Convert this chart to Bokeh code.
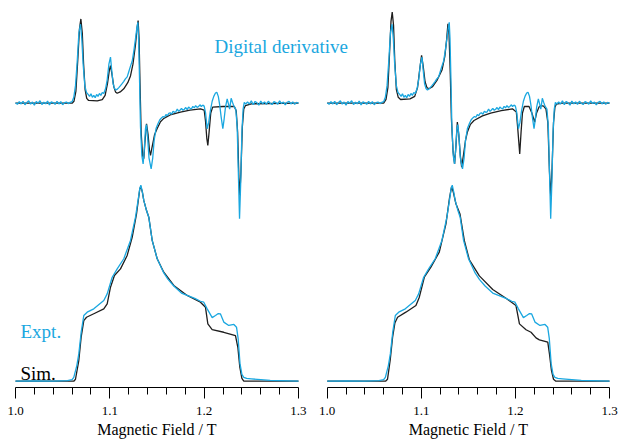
import numpy as np
from bokeh.plotting import figure
from bokeh.models import Range1d, LinearAxis, FixedTicker, Label, PrintfTickFormatter
from bokeh.embed import file_html
from bokeh.resources import INLINE

# ---------------- data ----------------
tick_values = [1.0, 1.1, 1.2, 1.3]
tick_labels = ["1.0", "1.1", "1.2", "1.3"]
minor_tick_values = [1.02, 1.04, 1.06, 1.08, 1.12, 1.14, 1.16, 1.18,
                     1.22, 1.24, 1.26, 1.28]
axis_title = "Magnetic Field / T"

# Experimental absorption spectrum (same data in both panels)
expt_abs_field = [1.000, 1.020, 1.040, 1.055, 1.0600, 1.0618, 1.0650, 1.0671, 1.0696, 1.0724,
                  1.0760, 1.0830, 1.0936, 1.0972, 1.1025, 1.1078, 1.1148, 1.1219, 1.1272, 1.1300,
                  1.1318, 1.1329, 1.1345, 1.1360, 1.1389, 1.1413, 1.1449, 1.1502, 1.1572, 1.1617,
                  1.1678, 1.1759, 1.1820, 1.1900, 1.1961, 1.1996, 1.2032, 1.2085, 1.2120, 1.2150,
                  1.2173, 1.2208, 1.2261, 1.2315, 1.2343, 1.2360, 1.2380, 1.2400, 1.2420, 1.2450,
                  1.2500, 1.2600, 1.2700, 1.2800, 1.3000]
expt_abs = [0.000, 0.002, 0.000, 0.003, 0.008, 0.020, 0.080, 0.140, 0.250, 0.337,
            0.354, 0.371, 0.414, 0.448, 0.533, 0.576, 0.628, 0.722, 0.841, 0.930,
            0.990, 1.005, 0.970, 0.927, 0.875, 0.841, 0.722, 0.628, 0.555, 0.522,
            0.488, 0.452, 0.440, 0.425, 0.410, 0.405, 0.371, 0.326, 0.337, 0.347,
            0.345, 0.303, 0.286, 0.291, 0.277, 0.220, 0.090, 0.035, 0.020, 0.014,
            0.012, 0.008, 0.004, 0.003, 0.000]

# Simulated absorption, left panel
sim1_abs_field = [1.000, 1.0618, 1.0636, 1.0671, 1.0696, 1.0724, 1.0753, 1.0830, 1.0936, 1.0972,
                  1.1007, 1.1049, 1.1113, 1.1184, 1.1237, 1.1283, 1.1318, 1.1329, 1.1345, 1.1360,
                  1.1389, 1.1413, 1.1449, 1.1502, 1.1572, 1.1678, 1.1820, 1.1961, 1.2014, 1.2039,
                  1.2085, 1.2208, 1.2332, 1.2357, 1.2378, 1.2400, 1.2420, 1.3000]
sim1_abs = [0.000, 0.000, 0.010, 0.106, 0.226, 0.311, 0.328, 0.346, 0.371, 0.397,
            0.482, 0.542, 0.576, 0.645, 0.738, 0.858, 0.987, 0.998, 0.970, 0.927,
            0.875, 0.841, 0.722, 0.628, 0.559, 0.491, 0.440, 0.405, 0.379, 0.294,
            0.264, 0.251, 0.234, 0.174, 0.072, 0.015, 0.000, 0.000]

# Simulated absorption, right panel
sim2_abs_field = [1.000, 1.0620, 1.0641, 1.0670, 1.0695, 1.0720, 1.0748, 1.0836, 1.0943, 1.0979,
                  1.1032, 1.1102, 1.1191, 1.1262, 1.1300, 1.1322, 1.1340, 1.1368, 1.1411, 1.1457,
                  1.1511, 1.1617, 1.1759, 1.1900, 1.2006, 1.2025, 1.2043, 1.2113, 1.2166, 1.2219,
                  1.2255, 1.2344, 1.2362, 1.2383, 1.2405, 1.2430, 1.3000]
sim2_abs = [0.000, 0.000, 0.010, 0.110, 0.226, 0.300, 0.328, 0.354, 0.388, 0.431,
            0.533, 0.585, 0.662, 0.807, 0.940, 0.998, 0.970, 0.910, 0.858, 0.722,
            0.622, 0.540, 0.470, 0.425, 0.388, 0.340, 0.294, 0.264, 0.251, 0.222,
            0.212, 0.200, 0.140, 0.055, 0.010, 0.000, 0.000]

# Digital derivative of the experimental spectrum (same data in both panels)
expt_deriv_field = [1.000, 1.002, 1.004, 1.006, 1.008, 1.010, 1.012, 1.014, 1.016, 1.018,
                    1.020, 1.022, 1.024, 1.026, 1.028, 1.030, 1.032, 1.034, 1.036, 1.038,
                    1.040, 1.042, 1.044, 1.046, 1.048, 1.050, 1.052, 1.054, 1.056, 1.058,
                    1.0600, 1.0618, 1.0636, 1.0655, 1.0672, 1.0689, 1.0703, 1.0717, 1.0735, 1.0752,
                    1.0770, 1.0785, 1.0800, 1.0815, 1.0830, 1.0845, 1.0860, 1.0875, 1.0890, 1.0905,
                    1.0920, 1.0936, 1.0955, 1.0972, 1.0990, 1.1007, 1.1020, 1.1035, 1.1050, 1.1065,
                    1.1080, 1.1095, 1.1113, 1.1130, 1.1148, 1.1165, 1.1184, 1.1200, 1.1219, 1.1237,
                    1.1255, 1.1272, 1.1285, 1.1297, 1.1305, 1.1315, 1.1325, 1.1340, 1.1353, 1.1365,
                    1.1378, 1.1388, 1.1400, 1.1415, 1.1438, 1.1455, 1.1470, 1.1490, 1.1510, 1.1530,
                    1.1550, 1.1565, 1.1580, 1.1595, 1.1610, 1.1625, 1.1640, 1.1655, 1.1670, 1.1685,
                    1.1700, 1.1715, 1.1730, 1.1745, 1.1760, 1.1775, 1.1790, 1.1805, 1.1820, 1.1835,
                    1.1850, 1.1865, 1.1880, 1.1895, 1.1910, 1.1925, 1.1940, 1.1955, 1.1970, 1.1985,
                    1.2000, 1.2015, 1.2032, 1.2048, 1.2065, 1.2085, 1.2102, 1.2120, 1.2134, 1.2150,
                    1.2165, 1.2180, 1.2198, 1.2212, 1.2226, 1.2244, 1.2258, 1.2270, 1.2286, 1.2300,
                    1.2315, 1.2335, 1.2350, 1.2362, 1.2375, 1.2388, 1.2400, 1.2413, 1.2425, 1.2440,
                    1.246, 1.248, 1.250, 1.252, 1.254, 1.256, 1.258, 1.260, 1.262, 1.264,
                    1.266, 1.268, 1.270, 1.272, 1.274, 1.276, 1.278, 1.280, 1.282, 1.284,
                    1.286, 1.288, 1.290, 1.292, 1.294, 1.296, 1.298, 1.300]
expt_deriv = [0.002, -0.006, 0.008, -0.004, 0.010, -0.008, 0.004, 0.012, -0.005, 0.006,
              -0.010, 0.009, 0.000, 0.013, -0.007, 0.005, -0.003, 0.011, -0.009, 0.007,
              0.002, -0.006, 0.010, -0.004, 0.008, -0.008, 0.003, 0.006, -0.002, 0.004,
              0.008, 0.030, 0.090, 0.220, 0.360, 0.405, 0.330, 0.200, 0.090, 0.055,
              0.045, 0.035, 0.048, 0.030, 0.040, 0.028, 0.045, 0.035, 0.050, 0.040,
              0.055, 0.050, 0.075, 0.120, 0.200, 0.236, 0.170, 0.100, 0.075, 0.068,
              0.072, 0.080, 0.090, 0.100, 0.112, 0.125, 0.135, 0.160, 0.190, 0.215,
              0.270, 0.330, 0.380, 0.415, 0.330, 0.120, -0.120, -0.270, -0.311, -0.240,
              -0.130, -0.110, -0.170, -0.280, -0.337, -0.280, -0.190, -0.130, -0.105, -0.085,
              -0.074, -0.068, -0.072, -0.058, -0.064, -0.052, -0.049, -0.057, -0.041, -0.047,
              -0.044, -0.030, -0.042, -0.035, -0.027, -0.036, -0.031, -0.022, -0.033, -0.020,
              -0.026, -0.029, -0.016, -0.024, -0.012, -0.021, -0.018, -0.008, -0.017, -0.010,
              -0.015, -0.050, -0.131, -0.100, -0.040, 0.010, 0.035, 0.052, 0.056, 0.035,
              -0.010, -0.070, -0.131, -0.080, -0.020, 0.022, -0.005, -0.030, 0.025, 0.005,
              -0.015, -0.030, -0.120, -0.350, -0.593, -0.400, -0.150, -0.030, 0.004, -0.004,
              0.006, -0.004, 0.012, -0.008, 0.009, 0.002, -0.010, 0.011, -0.003, 0.007,
              -0.006, 0.010, 0.000, -0.007, 0.008, 0.003, -0.005, 0.012, -0.002, 0.006,
              -0.009, 0.005, 0.010, -0.004, 0.007, -0.006, 0.004, 0.001]

# Derivative of the simulation, left panel
sim1_deriv_field = [1.000, 1.0600, 1.0620, 1.0640, 1.0660, 1.0678, 1.0693, 1.0708, 1.0722, 1.0738,
                    1.0755, 1.0775, 1.0866, 1.0920, 1.0950, 1.0975, 1.0995, 1.1007, 1.1022, 1.1042,
                    1.1060, 1.1078, 1.1110, 1.1148, 1.1190, 1.1219, 1.1245, 1.1272, 1.1290, 1.1300,
                    1.1310, 1.1320, 1.1332, 1.1348, 1.1360, 1.1372, 1.1389, 1.1405, 1.1420, 1.1431,
                    1.1450, 1.1475, 1.1502, 1.1537, 1.1572, 1.1650, 1.1749, 1.1850, 1.1961, 1.2000,
                    1.2014, 1.2028, 1.2039, 1.2052, 1.2070, 1.2090, 1.2200, 1.2320, 1.2340, 1.2355,
                    1.2368, 1.2378, 1.2390, 1.2405, 1.2420, 1.2438, 1.2500, 1.3000]
sim1_deriv = [0.000, 0.000, 0.010, 0.060, 0.220, 0.380, 0.432, 0.360, 0.200, 0.070,
              0.025, 0.014, 0.012, 0.018, 0.040, 0.100, 0.170, 0.193, 0.150, 0.085,
              0.058, 0.051, 0.058, 0.074, 0.105, 0.140, 0.200, 0.300, 0.390, 0.424,
              0.330, 0.100, -0.150, -0.270, -0.285, -0.200, -0.106, -0.160, -0.240, -0.268,
              -0.220, -0.160, -0.130, -0.095, -0.078, -0.058, -0.046, -0.036, -0.029, -0.035,
              -0.090, -0.180, -0.217, -0.150, -0.050, -0.020, -0.017, -0.017, -0.040, -0.150,
              -0.380, -0.473, -0.350, -0.120, -0.030, -0.012, -0.003, 0.000]

# Derivative of the simulation, right panel
sim2_deriv_field = [1.000, 1.0600, 1.0625, 1.0645, 1.0662, 1.0678, 1.0691, 1.0705, 1.0718, 1.0735,
                    1.0755, 1.0780, 1.0880, 1.0930, 1.0960, 1.0985, 1.1003, 1.1020, 1.1040, 1.1060,
                    1.1081, 1.1120, 1.1170, 1.1220, 1.1250, 1.1270, 1.1283, 1.1295, 1.1308, 1.1320,
                    1.1338, 1.1354, 1.1368, 1.1383, 1.1398, 1.1415, 1.1429, 1.1450, 1.1470, 1.1489,
                    1.1520, 1.1560, 1.1650, 1.1737, 1.1850, 1.1968, 1.2010, 1.2025, 1.2046, 1.2060,
                    1.2075, 1.2095, 1.2145, 1.2175, 1.2205, 1.2225, 1.2251, 1.2270, 1.2300, 1.2325,
                    1.2345, 1.2362, 1.2376, 1.2390, 1.2405, 1.2420, 1.2435, 1.2500, 1.3000]
sim2_deriv = [0.000, 0.000, 0.020, 0.080, 0.250, 0.420, 0.467, 0.400, 0.220, 0.070,
              0.030, 0.019, 0.022, 0.035, 0.080, 0.180, 0.245, 0.190, 0.110, 0.080,
              0.074, 0.085, 0.120, 0.170, 0.240, 0.330, 0.407, 0.350, 0.150, -0.080,
              -0.250, -0.311, -0.220, -0.097, -0.160, -0.270, -0.328, -0.260, -0.190, -0.149,
              -0.110, -0.089, -0.065, -0.051, -0.038, -0.029, -0.045, -0.130, -0.260, -0.150,
              -0.050, -0.017, -0.017, -0.050, -0.097, -0.050, -0.020, -0.012, -0.015, -0.030,
              -0.100, -0.350, -0.484, -0.330, -0.100, -0.020, -0.005, 0.000, 0.000]

# ---------------- layout constants (pixel geometry) ----------------
W, H = 619, 440
X0_L, PXT_L = 15.0, 943.3      # left panel: px of 1.0 T, px per tesla
X0_R, PXT_R = 326.7, 941.0     # right panel
BASE_PX, PX_UNIT = 380.7, 195.0
DERIV_BASE_PX = 102.7
AXIS_PX = 387.0

def py(v_px):
    return (BASE_PX - v_px) / PX_UNIT

def bx_left(x_px):
    return 1.0 + (x_px - X0_L) / PXT_L

deriv_offset = py(DERIV_BASE_PX)

BLACK = "#1e1e1e"
BLUE = "#1aa7e0"
SERIF = "Liberation Serif"

p = figure(width=W, height=H, output_backend="svg", toolbar_location=None,
           x_range=Range1d(1.0 - X0_L / PXT_L, 1.0 + (W - X0_L) / PXT_L),
           y_range=Range1d(py(H), py(0)),
           x_axis_type=None, y_axis_type=None, min_border=0)
p.extra_x_ranges = {"right": Range1d(1.0 - X0_R / PXT_R, 1.0 + (W - X0_R) / PXT_R)}
p.outline_line_color = None
p.background_fill_color = "white"
p.border_fill_color = "white"

for rng in ["default", "right"]:
    ax = LinearAxis(x_range_name=rng, bounds=(1.0, 1.3), fixed_location=py(AXIS_PX),
                    ticker=FixedTicker(ticks=tick_values, minor_ticks=minor_tick_values),
                    formatter=PrintfTickFormatter(format="%.1f"),
                    major_label_overrides=dict(zip(tick_values, tick_labels)),
                    axis_label=axis_title)
    ax.axis_line_color = "black"
    ax.axis_line_width = 1
    ax.major_tick_line_color = "black"
    ax.minor_tick_line_color = "black"
    ax.major_tick_in = 0
    ax.major_tick_out = 11
    ax.minor_tick_in = 0
    ax.minor_tick_out = 7
    ax.major_label_text_font = SERIF
    ax.major_label_text_font_size = "13px"
    ax.major_label_text_color = "black"
    ax.major_label_standoff = 8
    ax.axis_label_text_font = SERIF
    ax.axis_label_text_font_size = "16px"
    ax.axis_label_text_font_style = "normal"
    ax.axis_label_text_color = "black"
    ax.axis_label_standoff = 3
    p.add_layout(ax, "below")

LW = 1.3
# left panel
p.line(sim1_abs_field, sim1_abs, color=BLACK, line_width=LW)
p.line(expt_abs_field, expt_abs, color=BLUE, line_width=LW)
p.line(sim1_deriv_field, np.array(sim1_deriv) + deriv_offset, color=BLACK, line_width=LW)
p.line(expt_deriv_field, np.array(expt_deriv) + deriv_offset, color=BLUE, line_width=LW)
# right panel
p.line(sim2_abs_field, sim2_abs, color=BLACK, line_width=LW, x_range_name="right")
p.line(expt_abs_field, expt_abs, color=BLUE, line_width=LW, x_range_name="right")
p.line(sim2_deriv_field, np.array(sim2_deriv) + deriv_offset, color=BLACK, line_width=LW,
       x_range_name="right")
p.line(expt_deriv_field, np.array(expt_deriv) + deriv_offset, color=BLUE, line_width=LW,
       x_range_name="right")

p.add_layout(Label(x=bx_left(214), y=py(45.7), text="Digital derivative",
                   text_font=SERIF, text_font_size="19px", text_color=BLUE,
                   text_baseline="alphabetic"))
p.add_layout(Label(x=bx_left(20), y=py(330.7), text="Expt.",
                   text_font=SERIF, text_font_size="19px", text_color=BLUE,
                   text_baseline="alphabetic"))
p.add_layout(Label(x=bx_left(20), y=py(373), text="Sim.",
                   text_font=SERIF, text_font_size="19px", text_color="black",
                   text_baseline="alphabetic"))

open("out.html", "w").write(file_html(p, INLINE))
